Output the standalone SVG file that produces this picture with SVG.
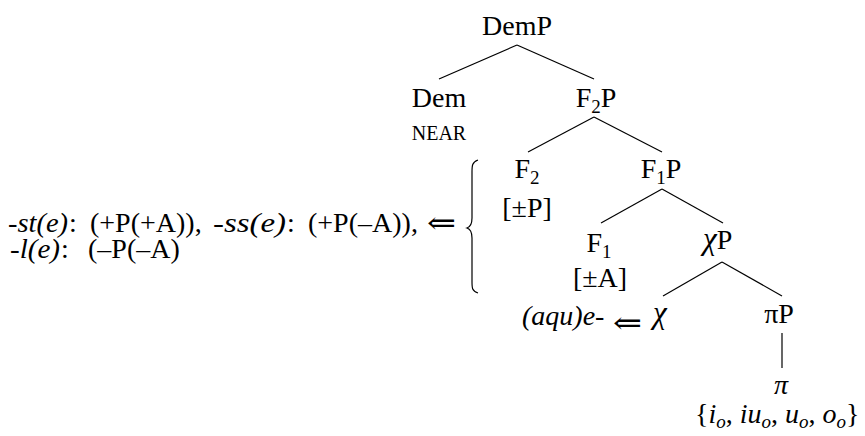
<svg xmlns="http://www.w3.org/2000/svg" width="865" height="436" viewBox="0 0 865 436">
<style>
text{font-family:"Liberation Serif","DejaVu Serif",serif;font-size:28px;fill:#000}
.c{text-anchor:middle}
.i{font-style:italic}
.s{font-size:19px}
.sc{font-size:20px}
.chi{font-size:31px}
.ar{font-family:"DejaVu Serif","DejaVu Sans",serif;font-size:30px}
line,path{stroke:#000;stroke-width:1.2;fill:none}
</style>
<rect width="865" height="436" fill="#fff"/>
<g id="connectors">
<line x1="517" y1="45" x2="439" y2="79"/>
<line x1="517" y1="45" x2="594" y2="79"/>
<line x1="594" y1="117" x2="528" y2="152"/>
<line x1="594" y1="117" x2="662" y2="152"/>
<line x1="662" y1="189" x2="601" y2="223"/>
<line x1="662" y1="189" x2="723" y2="223"/>
<line x1="722" y1="262" x2="663" y2="296"/>
<line x1="722" y1="262" x2="782" y2="296"/>
<line x1="782" y1="333" x2="782" y2="368"/>
</g>
<g id="DemP"><text class="c" x="517" y="35">DemP</text></g>
<g id="Dem"><text class="c" x="439" y="107">Dem</text><text class="c sc" x="439" y="140">NEAR</text></g>
<g id="F2P"><text class="c" x="596" y="107">F<tspan class="s" dy="6">2</tspan><tspan dy="-6">P</tspan></text></g>
<g id="F2"><text class="c" x="527" y="178">F<tspan class="s" dy="6">2</tspan></text><text class="c" x="527" y="217">[±P]</text></g>
<g id="F1P"><text class="c" x="661" y="178">F<tspan class="s" dy="6">1</tspan><tspan dy="-6">P</tspan></text></g>
<g id="F1"><text class="c" x="599" y="252">F<tspan class="s" dy="6">1</tspan></text><text class="c" x="600" y="287">[±A]</text></g>
<g id="chiP"><text x="703" y="249"><tspan class="i chi">χ</tspan>P</text></g>
<g id="chi"><text class="i" x="522" y="325">(aqu)e-</text><text class="ar" x="613" y="333" textLength="29" lengthAdjust="spacingAndGlyphs">⇐</text><text class="i chi" x="653" y="323">χ</text></g>
<g id="piP"><text class="c" x="779" y="323">πP</text></g>
<g id="pi"><text class="c i" x="781" y="394">π</text><text x="695" y="423">{<tspan class="i">i</tspan><tspan class="i s" dy="5">o</tspan><tspan dy="-5">, </tspan><tspan class="i">iu</tspan><tspan class="i s" dy="5">o</tspan><tspan dy="-5">, </tspan><tspan class="i">u</tspan><tspan class="i s" dy="5">o</tspan><tspan dy="-5">, </tspan><tspan class="i">o</tspan><tspan class="i s" dy="5">o</tspan><tspan dy="-5">}</tspan></text></g>
<g id="features">
<text y="232"><tspan class="i" x="8" textLength="60" lengthAdjust="spacingAndGlyphs">-st(e)</tspan><tspan x="69">:</tspan><tspan x="90">(+P(+A)),</tspan><tspan class="i" x="213" textLength="73" lengthAdjust="spacingAndGlyphs">-ss(e)</tspan><tspan x="287">:</tspan><tspan x="308">(+P(–A)),</tspan></text>
<text y="258"><tspan class="i" x="10" textLength="50" lengthAdjust="spacingAndGlyphs">-l(e)</tspan><tspan x="61">:</tspan><tspan x="88">(–P(–A)</tspan></text>
<text class="ar" x="427" y="233" textLength="29" lengthAdjust="spacingAndGlyphs">⇐</text>
<path d="M478,160 C472,162 472,166 472,172 L472,218 C472,224 470,227 467,228 C470,229 472,232 472,238 L472,282 C472,288 472,291 478,293"/>
</g>
</svg>
